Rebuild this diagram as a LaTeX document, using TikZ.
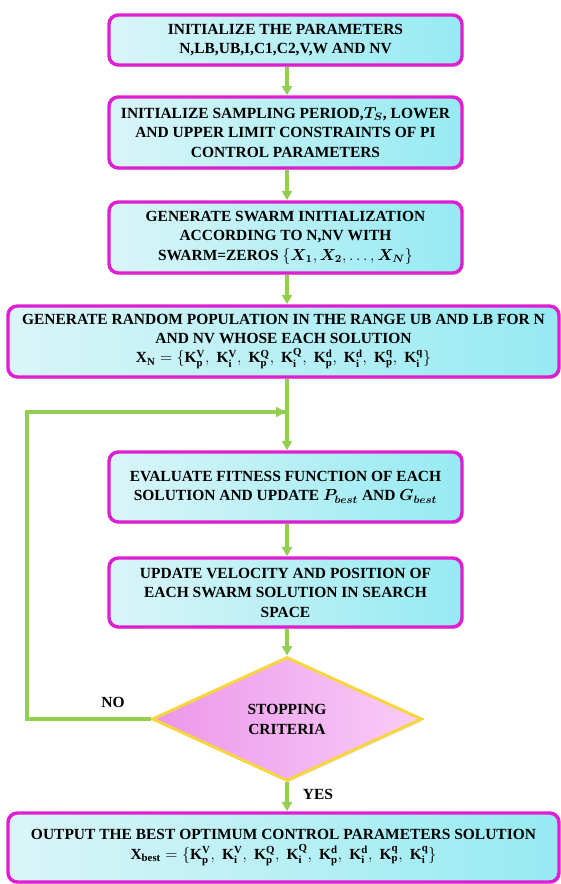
\documentclass[tikz,border=0pt]{standalone}
\usepackage{amsmath}
\usepackage{fontspec}
\setmainfont{Liberation Serif}
\usetikzlibrary{arrows.meta,shapes.geometric,shadows}
\definecolor{boxedge}{RGB}{222,30,210}
\definecolor{cyanL}{RGB}{218,245,248}
\definecolor{cyanR}{RGB}{150,234,242}
\definecolor{flow}{RGB}{146,206,80}
\definecolor{dedge}{RGB}{246,214,58}
\definecolor{pinkL}{RGB}{236,150,234}
\definecolor{pinkR}{RGB}{249,205,247}
\tikzset{
  procbox/.style={draw=boxedge, line width=2.6pt, rounded corners=7pt,
    left color=cyanL, right color=cyanR, align=center, inner sep=2pt,
    font=\fontsize{11.6}{14.6}\selectfont\bfseries,
    drop shadow={shadow xshift=1pt, shadow yshift=-1.5pt, opacity=0.25}},
  decbox/.style={diamond, draw=dedge, line width=2.2pt, left color=pinkL, right color=pinkR,
    align=center, inner sep=0pt, font=\fontsize{11.6}{15}\selectfont\bfseries,
    drop shadow={shadow xshift=1pt, shadow yshift=-1.5pt, opacity=0.2}},
  flowline/.style={draw=flow, line width=2.3pt},
  flowarrow/.style={flowline, -{Triangle[length=7pt,width=7.5pt]}},
  lbl/.style={font=\fontsize{11.6}{13}\selectfont\bfseries}
}
\newcommand{\Kb}[2]{\mathbf{K}_{\mathbf{#1}}^{\mathbf{#2}}}
\newcommand{\Kset}{\{\Kb{p}{V},\;\Kb{i}{V},\;\Kb{p}{Q},\;\Kb{i}{Q},\;\Kb{p}{d},\;\Kb{i}{d},\;\Kb{p}{q},\;\Kb{i}{q}\}}
\begin{document}
\begin{tikzpicture}[x=0.75pt, y=-0.75pt]
\useasboundingbox (0,0) rectangle (560,884);
\node[procbox, minimum width=264.75pt, minimum height=37.5pt] (b1) at (285.5,40)
  {INITIALIZE THE PARAMETERS\\ N,LB,UB,I,C1,C2,V,W AND NV};
\node[procbox, minimum width=264.75pt, minimum height=53.25pt] (b2) at (285.5,132.5)
  {INITIALIZE SAMPLING PERIOD,$\boldsymbol{T_S}$, LOWER\\ AND UPPER LIMIT CONSTRAINTS OF PI\\ CONTROL PARAMETERS};
\node[procbox, minimum width=264.75pt, minimum height=53.25pt] (b3) at (285.5,237.5)
  {GENERATE SWARM INITIALIZATION\\ ACCORDING TO N,NV WITH\\ SWARM=ZEROS $\{\boldsymbol{X_1},\boldsymbol{X_2},\ldots,\boldsymbol{X_N}\}$};
\node[procbox, minimum width=413.25pt, minimum height=53.25pt] (b4) at (283.5,341.5)
  {GENERATE RANDOM POPULATION IN THE RANGE UB AND LB FOR N\\ AND NV WHOSE EACH SOLUTION\\
   $\mathbf{X}_{\mathbf{N}}=\Kset$};
\node[procbox, minimum width=264.75pt, minimum height=52.5pt] (b5) at (285.5,487)
  {EVALUATE FITNESS FUNCTION OF EACH\\ SOLUTION AND UPDATE $\boldsymbol{P_{best}}$ AND $\boldsymbol{G_{best}}$};
\node[procbox, minimum width=264.75pt, minimum height=51.75pt] (b6) at (285.5,592.5)
  {UPDATE VELOCITY AND POSITION OF\\ EACH SWARM SOLUTION IN SEARCH\\ SPACE};
\node[decbox, minimum width=202.5pt, minimum height=93pt] (d) at (287,719)
  {STOPPING\\ CRITERIA};
\node[procbox, minimum width=413.25pt, minimum height=51.75pt] (b7) at (283.5,847.5)
  {OUTPUT THE BEST OPTIMUM CONTROL PARAMETERS SOLUTION\\
   $\mathbf{X}_{\mathbf{best}}=\Kset$};
\coordinate (join) at (287,412);
\coordinate (lc1) at (27,719);
\coordinate (lc2) at (27,412);
\draw[flowarrow] (b1.south -| 287,0) -- (b2.north -| 287,0);
\draw[flowarrow] (b2.south -| 287,0) -- (b3.north -| 287,0);
\draw[flowarrow] (b3.south -| 287,0) -- (b4.north -| 287,0);
\draw[flowarrow] (b4.south -| 287,0) -- (b5.north -| 287,0);
\draw[flowarrow] (b5.south -| 287,0) -- (b6.north -| 287,0);
\draw[flowarrow] (b6.south -| 287,0) -- (d.north);
\draw[flowarrow] (d.south) -- (b7.north -| d.south);
\draw[flowline] (d.west) -- (lc1) -- (lc2) -- ([xshift=-1pt]join);
\draw[flowarrow] (lc2) -- ([xshift=-1.2pt]join);
\node[lbl] (no) at (113,702) {NO};
\node[lbl] (yes) at (318,794) {YES};
\end{tikzpicture}
\end{document}
